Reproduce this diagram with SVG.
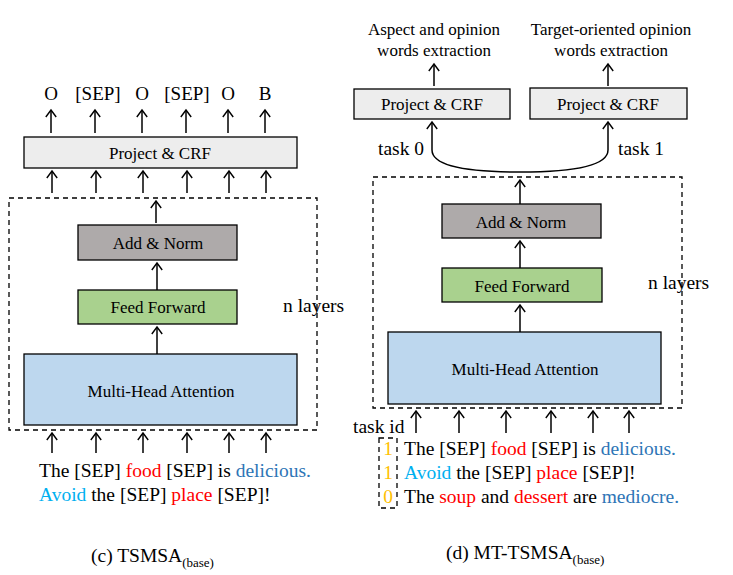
<svg xmlns="http://www.w3.org/2000/svg" width="733" height="575" viewBox="0 0 733 575">
<defs>
<marker id="ah" markerUnits="userSpaceOnUse" markerWidth="14" markerHeight="14" refX="12" refY="7" orient="auto" viewBox="0 0 14 14">
<path d="M5,1.8 L12,7 L5,12.2" fill="none" stroke="#000" stroke-width="1.4"/>
</marker>
<style>
text{font-family:"Liberation Serif","Times New Roman",serif;fill:#000}
.bx{font-size:17px;text-anchor:middle}
.lb{font-size:19.5px}
.box{stroke:#000;stroke-width:1.3}
.dash{fill:none;stroke:#000;stroke-width:1.3;stroke-dasharray:5,4}
.ar{stroke:#000;stroke-width:1.5;fill:none;marker-end:url(#ah)}
.red{fill:#ff0000}
.blu{fill:#2e75b6}
.lbl{fill:#00b0f0}
.org{fill:#ffc000}
</style>
</defs>
<rect width="733" height="575" fill="#fff"/>

<!-- Left panel -->
<g id="left-outputs" style="font-size:19px" text-anchor="middle">
<text x="51" y="100">O</text>
<text x="98" y="100">[SEP]</text>
<text x="142" y="100">O</text>
<text x="187" y="100">[SEP]</text>
<text x="228" y="100">O</text>
<text x="265" y="100">B</text>
</g>
<g id="left-crf"><rect class="box" x="24" y="137" width="273" height="31" fill="#ededed"/><text class="bx" x="160" y="159">Project &amp; CRF</text></g>
<rect id="left-layers" class="dash" x="9" y="198" width="308" height="232"/>
<g id="left-addnorm"><rect class="box" x="78" y="225" width="159" height="35" fill="#aeaaaa"/><text class="bx" x="158" y="249">Add &amp; Norm</text></g>
<g id="left-ff"><rect class="box" x="78" y="290" width="159" height="34" fill="#a9d18e"/><text class="bx" x="158" y="313">Feed Forward</text></g>
<g id="left-mha"><rect class="box" x="24" y="354" width="273" height="71" fill="#bdd7ee"/><text class="bx" x="161" y="397">Multi-Head Attention</text></g>
<text id="left-nlayers" class="lb" x="283" y="312">n layers</text>
<g id="left-input" class="lb">
<text x="39" y="477">The [SEP] <tspan class="red">food</tspan> [SEP] is <tspan class="blu">delicious.</tspan></text>
<text x="39" y="501"><tspan class="lbl">Avoid</tspan> the [SEP] <tspan class="red">place</tspan> [SEP]!</text>
</g>
<text id="caption-c" class="lb" x="91" y="562">(c) TSMSA<tspan font-size="13" dy="5">(base)</tspan></text>

<!-- Right panel -->
<g id="right-task0-label" class="bx">
<text x="434" y="35">Aspect and opinion</text>
<text x="434" y="56">words extraction</text>
</g>
<g id="right-task1-label" class="bx">
<text x="611" y="35">Target-oriented opinion</text>
<text x="611" y="56">words extraction</text>
</g>
<g id="right-crf0"><rect class="box" x="354" y="89" width="156" height="30" fill="#ededed"/><text class="bx" x="432" y="110">Project &amp; CRF</text></g>
<g id="right-crf1"><rect class="box" x="530" y="88" width="157" height="31" fill="#ededed"/><text class="bx" x="608" y="110">Project &amp; CRF</text></g>
<text id="task0" class="lb" x="378" y="155">task 0</text>
<text id="task1" class="lb" x="618" y="155">task 1</text>
<rect id="right-layers" class="dash" x="373" y="177" width="309" height="231"/>
<g id="right-addnorm"><rect class="box" x="442" y="204" width="159" height="34" fill="#aeaaaa"/><text class="bx" x="521" y="228">Add &amp; Norm</text></g>
<g id="right-ff"><rect class="box" x="442" y="268" width="160" height="34" fill="#a9d18e"/><text class="bx" x="522" y="292">Feed Forward</text></g>
<g id="right-mha"><rect class="box" x="388" y="332" width="273" height="72" fill="#bdd7ee"/><text class="bx" x="525" y="375">Multi-Head Attention</text></g>
<text id="right-nlayers" class="lb" x="648" y="289">n layers</text>
<text id="taskid" class="lb" x="353" y="433">task id</text>
<rect id="taskid-box" class="dash" x="379" y="438" width="18" height="70" stroke-dasharray="4,3"/>
<g id="taskid-digits" class="lb org" text-anchor="middle">
<text class="org" x="388" y="455">1</text>
<text class="org" x="388" y="479">1</text>
<text class="org" x="388" y="503">0</text>
</g>
<g id="right-input" class="lb">
<text x="404" y="455">The [SEP] <tspan class="red">food</tspan> [SEP] is <tspan class="blu">delicious.</tspan></text>
<text x="404" y="479"><tspan class="lbl">Avoid</tspan> the [SEP] <tspan class="red">place</tspan> [SEP]!</text>
<text x="404" y="503">The <tspan class="red">soup</tspan> and <tspan class="red">dessert</tspan> are <tspan class="blu">mediocre.</tspan></text>
</g>
<text id="caption-d" class="lb" x="446" y="559">(d) MT-TSMSA<tspan font-size="13" dy="5">(base)</tspan></text>

<g id="connectors">
<!-- left outputs -->
<path class="ar" d="M51,133 V110"/>
<path class="ar" d="M95,133 V110"/>
<path class="ar" d="M142,133 V110"/>
<path class="ar" d="M186,133 V110"/>
<path class="ar" d="M228,133 V110"/>
<path class="ar" d="M265,133 V110"/>
<!-- left into CRF -->
<path class="ar" d="M52,193 V171"/>
<path class="ar" d="M96,193 V171"/>
<path class="ar" d="M143,193 V171"/>
<path class="ar" d="M187,193 V171"/>
<path class="ar" d="M229,193 V171"/>
<path class="ar" d="M266,193 V171"/>
<!-- left internal -->
<path class="ar" d="M156,223 V201"/>
<path class="ar" d="M157,290 V263"/>
<path class="ar" d="M157,354 V327"/>
<!-- left inputs -->
<path class="ar" d="M52,453 V433"/>
<path class="ar" d="M96,453 V433"/>
<path class="ar" d="M143,453 V433"/>
<path class="ar" d="M187,453 V433"/>
<path class="ar" d="M229,453 V433"/>
<path class="ar" d="M266,453 V433"/>
<!-- right outputs -->
<path class="ar" d="M434,86 V64"/>
<path class="ar" d="M608,86 V64"/>
<!-- task split curve -->
<path class="ar" d="M520,172 C470,172 432,167 432,150 V122"/>
<path class="ar" d="M520,172 C570,172 608,167 608,150 V122"/>
<!-- right internal -->
<path class="ar" d="M520,204 V180"/>
<path class="ar" d="M520,268 V241"/>
<path class="ar" d="M520,332 V305"/>
<!-- right inputs -->
<path class="ar" d="M416,433 V411"/>
<path class="ar" d="M459,433 V411"/>
<path class="ar" d="M506,433 V411"/>
<path class="ar" d="M551,433 V411"/>
<path class="ar" d="M593,433 V411"/>
<path class="ar" d="M629,433 V411"/>
</g>
</svg>
